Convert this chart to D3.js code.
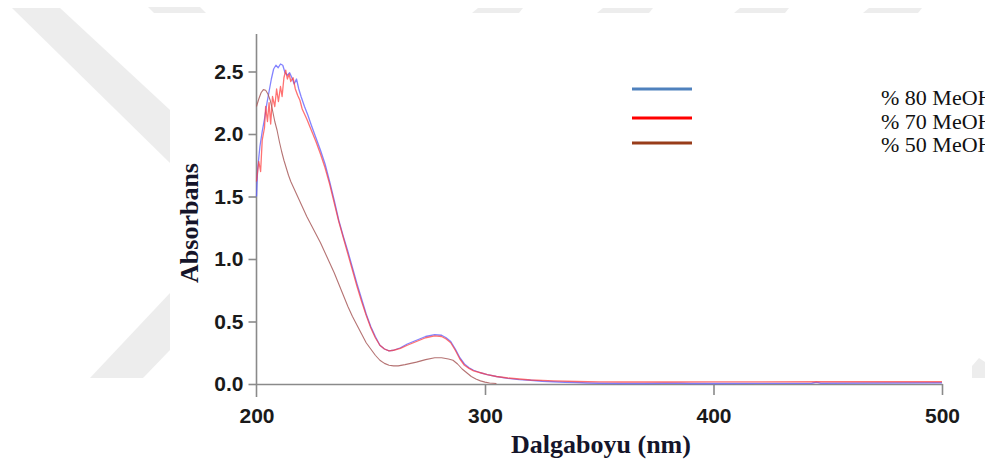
<!DOCTYPE html>
<html>
<head>
<meta charset="utf-8">
<script src="https://cdn.jsdelivr.net/npm/d3@7/dist/d3.min.js"></script>
<style>
  html, body { margin: 0; padding: 0; background: #fff; }
  svg { display: block; }
</style>
</head>
<body>
<svg id="chart" width="985" height="466"></svg>
<script>
// ---------- DATA ----------
const seriesNames = ["% 80 MeOH", "% 70 MeOH", "% 50 MeOH"];
const xTicks = [200, 300, 400, 500];
const yTicks = [0.0, 0.5, 1.0, 1.5, 2.0, 2.5];

const wl80 = [200,200.5,201.5,202.5,203.5,204.5,205.5,206.5,207.5,208.5,209.5,210.5,211.5,212.5,213.5,214.5,215.5,216.5,217.5,218.5,219.5,221,222.5,224,226,228,230,232,234,236,238,240,242,244,246,248,250,252,254,256,258,260,263,266,270,274,278,281,283,285,287,289,291,293,295,298,301,305,310,315,320,325,330,335,340,345,350,360,370,378,386,390,400,420,443,445,447,470,500];
const abs80 = [1.50,1.72,1.90,2.02,2.12,2.24,2.34,2.44,2.52,2.55,2.53,2.56,2.55,2.49,2.47,2.49,2.45,2.40,2.44,2.36,2.30,2.22,2.15,2.07,1.97,1.87,1.76,1.62,1.47,1.31,1.18,1.06,0.93,0.80,0.68,0.56,0.46,0.38,0.31,0.28,0.265,0.27,0.29,0.32,0.35,0.38,0.395,0.39,0.37,0.34,0.28,0.21,0.16,0.13,0.11,0.09,0.075,0.06,0.045,0.035,0.03,0.022,0.018,0.014,0.012,0.008,0.006,0.004,0.004,0.006,0.006,0.004,0.004,0.005,0.006,0.014,0.006,0.008,0.01];

const wl70 = [200,201,201.8,202.5,203.5,204,204.8,205.5,206.2,207,208,208.8,209.6,210.5,211.2,212,212.8,213.5,214.3,215,216,217,218,219,220,222,224,226,228,230,232,234,236,238,240,242,244,246,248,250,252,254,256,258,260,263,266,270,274,278,281,283,285,287,289,291,293,295,298,301,305,310,315,320,330,340,350,360,380,400,450,500];
const abs70 = [1.62,1.78,1.70,1.95,2.05,2.22,2.10,2.25,2.08,2.30,2.22,2.36,2.26,2.38,2.30,2.45,2.51,2.44,2.48,2.42,2.45,2.36,2.31,2.27,2.20,2.12,2.03,1.94,1.84,1.73,1.60,1.45,1.30,1.17,1.04,0.91,0.78,0.66,0.55,0.45,0.37,0.31,0.28,0.265,0.27,0.285,0.31,0.34,0.37,0.385,0.38,0.36,0.33,0.27,0.20,0.15,0.125,0.105,0.09,0.075,0.06,0.048,0.04,0.032,0.025,0.02,0.017,0.016,0.016,0.017,0.018,0.018];

const wl50 = [200,201,202,203,204,205,206,207,208,209,210,211,212,213,214,215,216.5,218,220,222,224,226,228,230,232,234,236,238,240,242,244,246,248,250,252,254,256,258,260,262,265,270,274,278,281,284,286,288,290,292,294,296,298,300,302,305];
const abs50 = [2.22,2.28,2.33,2.355,2.35,2.32,2.27,2.19,2.10,2.03,1.94,1.86,1.79,1.73,1.67,1.62,1.56,1.50,1.42,1.34,1.27,1.20,1.13,1.05,0.97,0.89,0.80,0.71,0.62,0.54,0.47,0.40,0.33,0.28,0.23,0.19,0.165,0.15,0.145,0.145,0.155,0.175,0.195,0.21,0.21,0.20,0.19,0.16,0.12,0.09,0.06,0.04,0.025,0.015,0.008,0.004];

// ---------- LAYOUT ----------
const svg = d3.select("#chart");
const W = 985, H = 466;
const mLeft = 256.5, mRight = 942, mTop = 34, mBottom = 384;

// background watermark (decorative)
const bg = svg.append("g").attr("fill", "#ededed");
const wm = [
  [[12,8],[60,8],[170,110],[170,163]],
  [[148,7],[200,7],[206,13],[154,13]],
  [[90,378],[143,378],[170,350],[170,293]],
  [[472,13],[478,8],[523,8],[519,13]],
  [[597,13],[603,8],[653,8],[649,13]],
  [[734,13],[740,8],[789,8],[785,13]],
  [[863,13],[869,8],[922,8],[918,13]],
  [[972,366],[979,358],[985,362],[985,378],[972,378]]
];
wm.forEach(p => bg.append("polygon").attr("points", p.map(d => d.join(",")).join(" ")));
svg.append("rect").attr("x", 170).attr("y", 13).attr("width", 802).attr("height", H - 13).attr("fill", "#fff");

const x = d3.scaleLinear().domain([200, 500]).range([mLeft, mRight]);
const y = d3.scaleLinear().domain([0, 2.8]).range([mBottom, mTop]);

// ---------- AXES ----------
const axisColor = "#8a8a8a";
const xAxis = svg.append("g").attr("transform", `translate(0,${mBottom})`)
  .call(d3.axisBottom(x).tickValues(xTicks).tickSize(11).tickSizeOuter(0).tickFormat(d3.format("d")));
xAxis.select(".domain").attr("stroke", axisColor).attr("stroke-width", 1.6);
xAxis.selectAll(".tick line").attr("stroke", axisColor).attr("stroke-width", 1.6);
xAxis.selectAll(".tick text")
  .attr("dy", 0).attr("y", 39)
  .attr("font-family", "Liberation Sans, Arial, sans-serif")
  .attr("font-weight", "bold").attr("font-size", 21).attr("fill", "#1a1a1a");

const yAxis = svg.append("g").attr("transform", `translate(${mLeft},0)`)
  .call(d3.axisLeft(y).tickValues(yTicks).tickSize(8).tickSizeOuter(0).tickFormat(d3.format(".1f")));
yAxis.select(".domain").attr("stroke", axisColor).attr("stroke-width", 1.6)
  .attr("d", `M0,${mTop}V${mBottom + 13}`);
yAxis.selectAll(".tick line").attr("stroke", axisColor).attr("stroke-width", 1.6);
yAxis.selectAll(".tick text")
  .attr("x", -13)
  .attr("font-family", "Liberation Sans, Arial, sans-serif")
  .attr("font-weight", "bold").attr("font-size", 21).attr("fill", "#1a1a1a");
xAxis.selectAll(".tick").filter(d => d === 200).select("line").remove();

// axis titles
svg.append("text")
  .attr("transform", `translate(198,223) rotate(-90)`)
  .attr("text-anchor", "middle")
  .attr("font-family", "Liberation Serif, Times New Roman, serif")
  .attr("font-weight", "bold").attr("font-size", 26).attr("fill", "#15152a")
  .text("Absorbans");
svg.append("text")
  .attr("x", 601).attr("y", 453)
  .attr("text-anchor", "middle")
  .attr("font-family", "Liberation Serif, Times New Roman, serif")
  .attr("font-weight", "bold").attr("font-size", 26).attr("fill", "#15152a")
  .text("Dalgaboyu (nm)");

// ---------- LINES ----------
const series = [
  { name: seriesNames[0], wl: wl80, v: abs80, color: "#5a5aff", op: 0.75, w: 1.3, legend: "#4f81bd" },
  { name: seriesNames[1], wl: wl70, v: abs70, color: "#ff3c3c", op: 0.72, w: 1.3, legend: "#ff0000" },
  { name: seriesNames[2], wl: wl50, v: abs50, color: "#a85a5a", op: 0.85, w: 1.1, legend: "#983c1a" }
];
const line = d3.line().x(d => x(d[0])).y(d => y(d[1]));
series.forEach(s => {
  svg.append("path")
    .datum(s.wl.map((w, i) => [w, s.v[i]]))
    .attr("d", line)
    .attr("fill", "none")
    .attr("stroke", s.color)
    .attr("stroke-opacity", s.op)
    .attr("stroke-width", s.w)
    .attr("stroke-linejoin", "round");
});

// ---------- LEGEND ----------
const legY = [89, 118, 143];
const textY = [105, 129, 152];
series.forEach((s, i) => {
  svg.append("line")
    .attr("x1", 632).attr("x2", 692).attr("y1", legY[i]).attr("y2", legY[i])
    .attr("stroke", s.legend).attr("stroke-width", 3);
  svg.append("text")
    .attr("x", 881).attr("y", textY[i])
    .attr("font-family", "Liberation Serif, Times New Roman, serif")
    .attr("font-size", 22).attr("fill", "#111")
    .text(s.name);
});
</script>
</body>
</html>
